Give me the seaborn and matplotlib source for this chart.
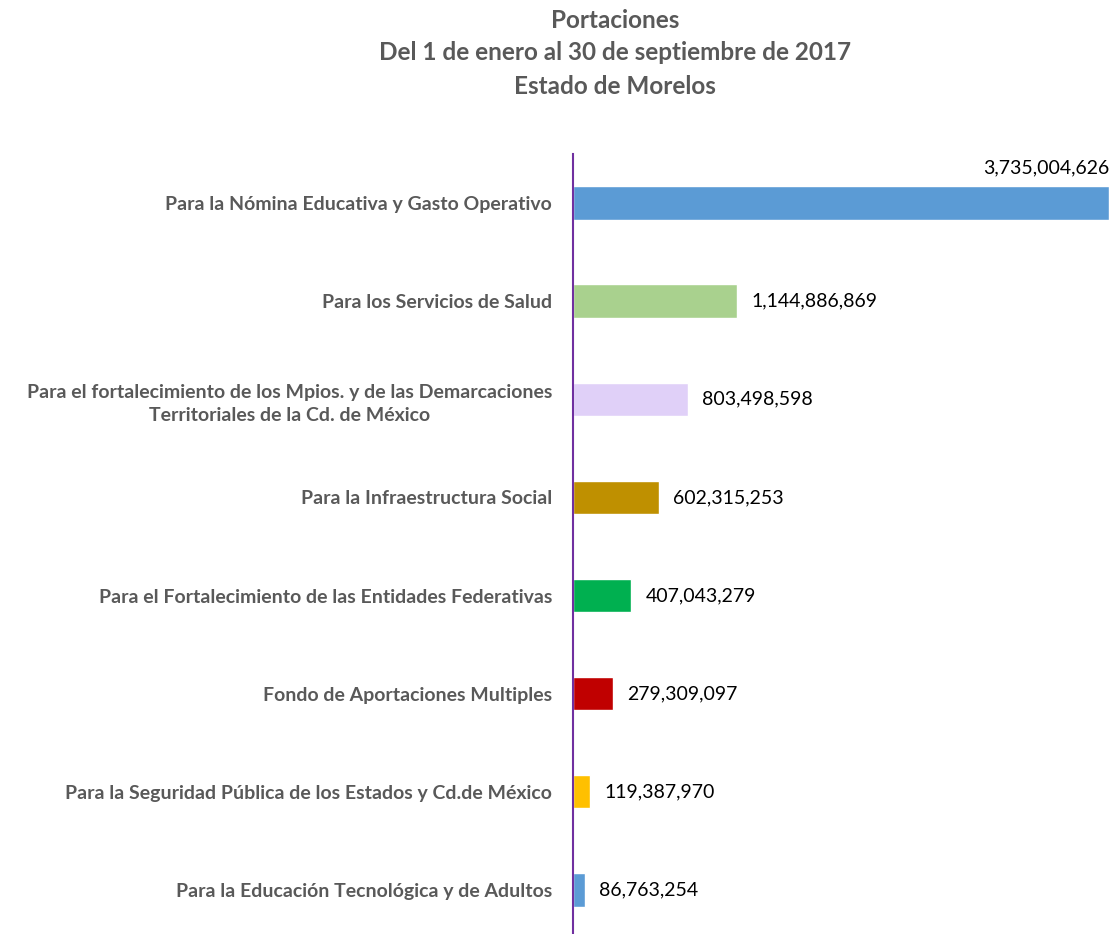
import matplotlib
matplotlib.use('Agg')
import matplotlib.pyplot as plt
import seaborn as sns
import pandas as pd

categorias = [
    'Para la Nómina Educativa y Gasto Operativo',
    'Para los Servicios de Salud',
    'Para el fortalecimiento de los Mpios. y de las Demarcaciones\nTerritoriales de la Cd. de México',
    'Para la Infraestructura Social',
    'Para el Fortalecimiento de las Entidades Federativas',
    'Fondo de Aportaciones Multiples',
    'Para la Seguridad Pública de los Estados y Cd.de México',
    'Para la Educación Tecnológica y de Adultos',
]
valores = [3735004626, 1144886869, 803498598, 602315253,
           407043279, 279309097, 119387970, 86763254]
colores = ['#5B9BD5', '#A9D18E', '#E0D0F8', '#BF9000',
           '#00B050', '#C00000', '#FFC000', '#5B9BD5']
titulo = ['Portaciones', 'Del 1 de enero al 30 de septiembre de 2017', 'Estado de Morelos']

sns.set_theme(style='white')
plt.rcParams['font.family'] = ['Lato', 'DejaVu Sans']

df = pd.DataFrame({'categoria': categorias, 'valor': valores})

fig = plt.figure(figsize=(11.09, 9.34), dpi=100)
ax = fig.add_axes([573 / 1109, 0, 1 - 573 / 1109, 1 - 154 / 934])
sns.barplot(data=df, x='valor', y='categoria', hue='categoria', palette=colores,
            legend=False, width=0.34, saturation=1, ax=ax)

ax.set_xlim(0, max(valores))
ax.set_ylim(7.45, -0.5)
ax.set_xlabel('')
ax.set_ylabel('')
ax.set_xticks([])
for s in ['top', 'right', 'bottom']:
    ax.spines[s].set_visible(False)
ax.spines['left'].set_color('#7030A0')
ax.spines['left'].set_linewidth(1.5)
ax.tick_params(axis='y', length=0, pad=15)
for t in ax.get_yticklabels():
    t.set_fontsize(14)
    t.set_fontweight('bold')
    t.set_color('#595959')
    t.set_multialignment('center')
    t.set_linespacing(1.45)

# etiquetas de valor
for i, v in enumerate(valores):
    txt = f'{v:,}'
    if i == 0:
        ax.text(v, i - 0.36, txt, ha='right', va='center', fontsize=14, color='black')
    else:
        ax.annotate(txt, (v, i), xytext=(10, 0), textcoords='offset points',
                    ha='left', va='center', fontsize=14, color='black')

for k, linea in enumerate(titulo):
    fig.text(615 / 1109, 1 - (20 + 33 * k) / 934, linea, ha='center', va='center',
             fontsize=17.5, fontweight='bold', color='#595959')

fig.savefig('out.png', dpi=100)
